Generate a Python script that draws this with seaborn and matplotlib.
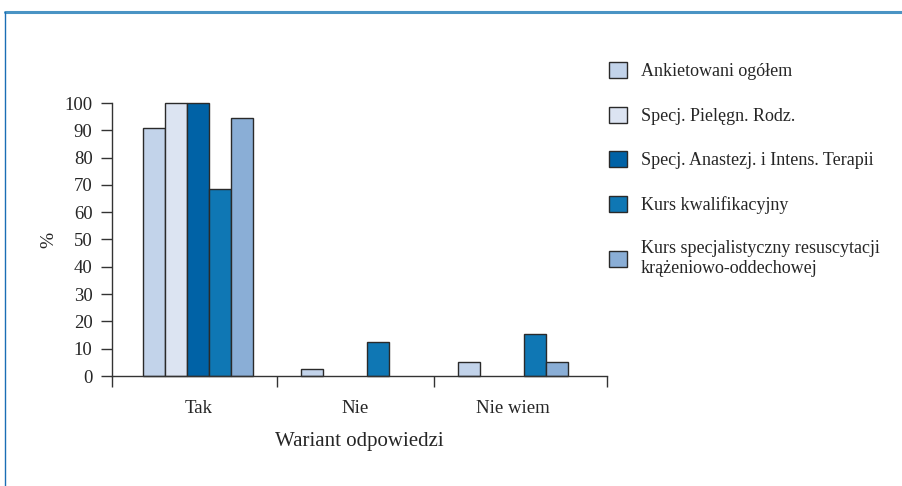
import numpy as np
import pandas as pd
import seaborn as sns
import matplotlib.pyplot as plt
from matplotlib.patches import Patch
from matplotlib.lines import Line2D

categories = ["Tak", "Nie", "Nie wiem"]
groups = [
    "Ankietowani ogółem",
    "Specj. Pielęgn. Rodz.",
    "Specj. Anastezj. i Intens. Terapii",
    "Kurs kwalifikacyjny",
    "Kurs specjalistyczny resuscytacji\nkrążeniowo-oddechowej",
]
ankietowani = [91, 2.5, 5]
piel_rodz = [100, 0, 0]
anastezj = [100, 0, 0]
kurs_kwal = [68.5, 12.5, 15.5]
kurs_spec = [94.5, 0, 5]
colors = ["#c2d3ea", "#dce4f2", "#0062a6", "#0f77b4", "#8aaed6"]

series = [ankietowani, piel_rodz, anastezj, kurs_kwal, kurs_spec]
rows = []
for g, vals in zip(groups, series):
    for c, v in zip(categories, vals):
        rows.append({"Wariant": c, "Grupa": g, "Procent": v})
df = pd.DataFrame(rows)

sns.set_style("white")
plt.rcParams["font.family"] = ["Liberation Serif", "DejaVu Serif"]

fig = plt.figure(figsize=(9.02, 4.86), dpi=100)
ax = fig.add_axes([112 / 902, 1 - 376 / 486, 495 / 902, 273 / 486])

sns.barplot(data=df, x="Wariant", y="Procent", hue="Grupa", order=categories,
            hue_order=groups, palette=colors, width=0.7, edgecolor="#2a2a2a",
            linewidth=1.0, saturation=1, ax=ax, legend=False)
for p in ax.patches:
    p.set_clip_on(False)
    if p.get_height() == 0:
        p.set_visible(False)

ax.set_xlim(-0.55, 2.6)
ax.set_ylim(0, 100)
ax.set_yticks(np.arange(0, 101, 10))
for s in ["top", "right"]:
    ax.spines[s].set_visible(False)
ax.spines["left"].set_bounds(0, 100)
for s in ["left", "bottom"]:
    ax.spines[s].set_color("#333333")
    ax.spines[s].set_linewidth(1.0)

ax.tick_params(axis="y", direction="out", length=8, width=1.0, color="#333333",
               labelsize=13.5, pad=6, left=True)
ax.tick_params(axis="x", which="major", length=0, labelsize=13.5, pad=17)
ax.set_xticks([-0.55, 0.5, 1.5, 2.6], minor=True)
ax.tick_params(axis="x", which="minor", direction="out", length=8, width=1.0,
               color="#333333", bottom=True)

ax.set_ylabel("%", fontsize=14)
ax.yaxis.set_label_coords(-0.11, 0.5)
ax.set_xlabel("Wariant odpowiedzi", fontsize=15)
ax.xaxis.set_label_coords(0.5, -0.205)

handles = [Patch(facecolor=c, edgecolor="#2a2a2a", linewidth=1.0) for c in colors]
fig.legend(handles, groups, loc="upper left", bbox_to_anchor=(602 / 902, 1 - 55 / 486),
           frameon=False, fontsize=13, handlelength=1.0, handleheight=1.0,
           handletextpad=0.75, labelspacing=1.45, borderaxespad=0)

fig.add_artist(Line2D([5 / 902, 1], [1 - 12 / 486] * 2, color="#4a94c4", lw=2.2,
                      transform=fig.transFigure))
fig.add_artist(Line2D([5 / 902] * 2, [0, 1 - 12 / 486], color="#1a6eb5", lw=1.0,
                      transform=fig.transFigure))

fig.savefig("out.png", dpi=100)
